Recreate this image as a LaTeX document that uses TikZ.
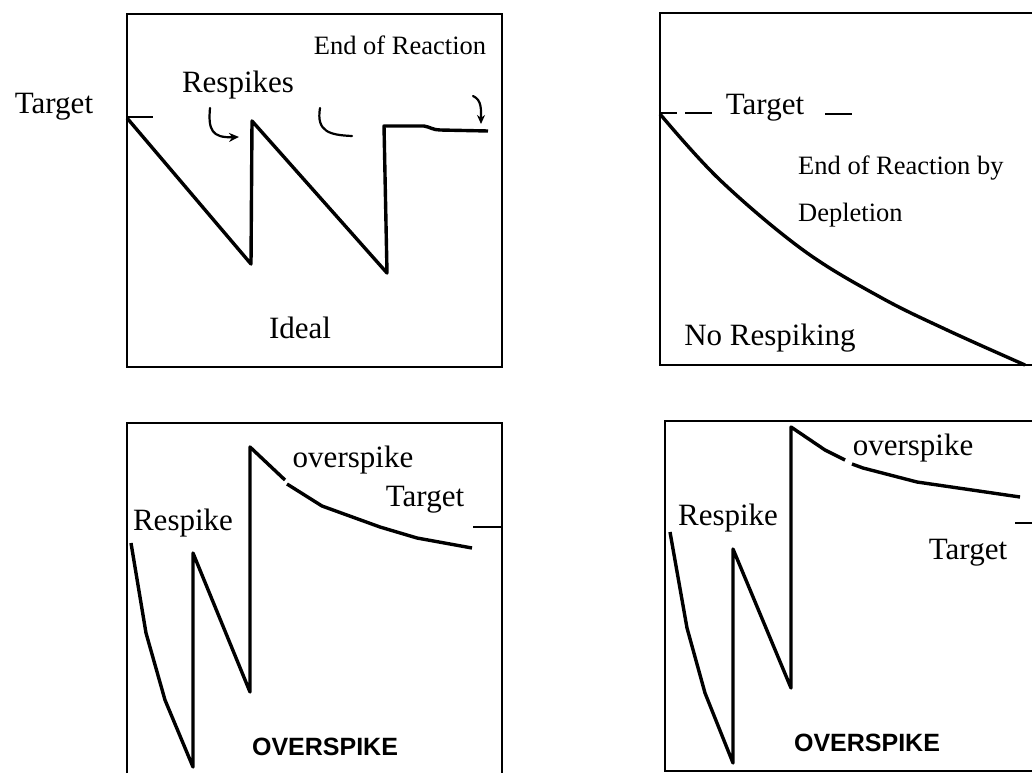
\documentclass[tikz,border=0pt]{standalone}
\usepackage{fontspec}
\setmainfont{Liberation Serif}
\newfontfamily\boldsans{Liberation Sans}
\usetikzlibrary{arrows.meta}
\begin{document}
\begin{tikzpicture}[x=1pt,y=-1pt,
  frame/.style={line width=2.6pt},
  curve/.style={line width=3.4pt,line join=round},
  lbl/.style={inner sep=0pt,font=\fontsize{31}{35}\selectfont},
  lbls/.style={inner sep=0pt,font=\fontsize{26.5}{30}\selectfont},
  big/.style={inner sep=0pt,font=\boldsans\bfseries\fontsize{25}{29}\selectfont},
  hand/.style={line width=2.2pt,line cap=round}]
\useasboundingbox (0,0) rectangle (1032,773);
% ---------- top left: Ideal ----------
\draw[frame] (127,14) rectangle (502,367);
\draw[curve] (127,118) -- (251,264) -- (252,121) -- (387,273) -- (384,126) -- (424,126) .. controls (430,127) and (433,130) .. (440,130) -- (488,131);
\draw[line width=2.6pt] (127,117) -- (153,117);
\node[lbl] (tl-target) at (54,107) {Target};
\node[lbl] (tl-resp) at (238,85) {Respikes};
\node[lbls] (tl-end) at (400,45) {End of Reaction};
\node[lbl] (tl-ideal) at (300,328) {Ideal};
\coordinate (a1s) at (210,108); \coordinate (a1e) at (239,137);
\draw[hand,-{Stealth[length=10pt,width=9pt]}] (a1s) .. controls (208,130) and (212,138) .. (a1e);
\coordinate (a2s) at (320,108); \coordinate (a2e) at (352,136);
\draw[hand] (a2s) .. controls (316,132) and (330,135) .. (a2e);
\coordinate (a3s) at (473,96); \coordinate (a3e) at (481,124);
\draw[hand,-{Stealth[length=9pt,width=8pt]}] (a3s) .. controls (482,100) and (481,110) .. (a3e);
% ---------- top right: Depletion ----------
\draw[frame] (1032,13) -- (660,13) -- (660,365) -- (1032,365);
\draw[curve] plot[smooth,tension=0.6] coordinates {(660,114) (720,180) (803,250) (880,297) (947,330) (1025,365)};
\draw[line width=2.6pt] (660,113) -- (677,113) (685,113) -- (712,113) (825,114) -- (852,114);
\node[lbl] (tr-target) at (765,108) {Target};
\node[lbls,anchor=west] (tr-end) at (798,168) {End of Reaction by};
\node[lbls,anchor=west] (tr-dep) at (798,215) {Depletion};
\node[lbl] (tr-no) at (770,338) {No Respiking};
% ---------- bottom left: Overspike ----------
\draw[frame] (127,773) -- (127,423) -- (502,423) -- (502,773);
\draw[curve] (131,543) -- (146,633) -- (165,700) -- (193,767) -- (193,553) -- (250,692) -- (250,447) -- (285,480);
\draw[curve] (287,484) -- (322,506) -- (380,527) -- (417,538) -- (472,548);
\draw[line width=2.6pt] (473,527) -- (502,527);
\node[lbl] (bl-over) at (353,460) {overspike};
\node[lbl] (bl-target) at (425,500) {Target};
\node[lbl] (bl-resp) at (183,523) {Respike};
\node[big] (bl-big) at (325,747) {OVERSPIKE};
% ---------- bottom right: Overspike ----------
\draw[frame] (1032,421) -- (665,421) -- (665,771) -- (1032,771);
\draw[curve] (670,532) -- (687,628) -- (705,693) -- (733,763) -- (733,549) -- (791,688) -- (791,427) -- (825,450) -- (845,460);
\draw[curve] (852,464) -- (863,468) -- (917,482) -- (1020,497);
\draw[line width=2.6pt] (1015,523) -- (1032,523);
\node[lbl] (br-over) at (913,448) {overspike};
\node[lbl] (br-resp) at (728,518) {Respike};
\node[lbl] (br-target) at (968,553) {Target};
\node[big] (br-big) at (867,743) {OVERSPIKE};
\end{tikzpicture}
\end{document}
